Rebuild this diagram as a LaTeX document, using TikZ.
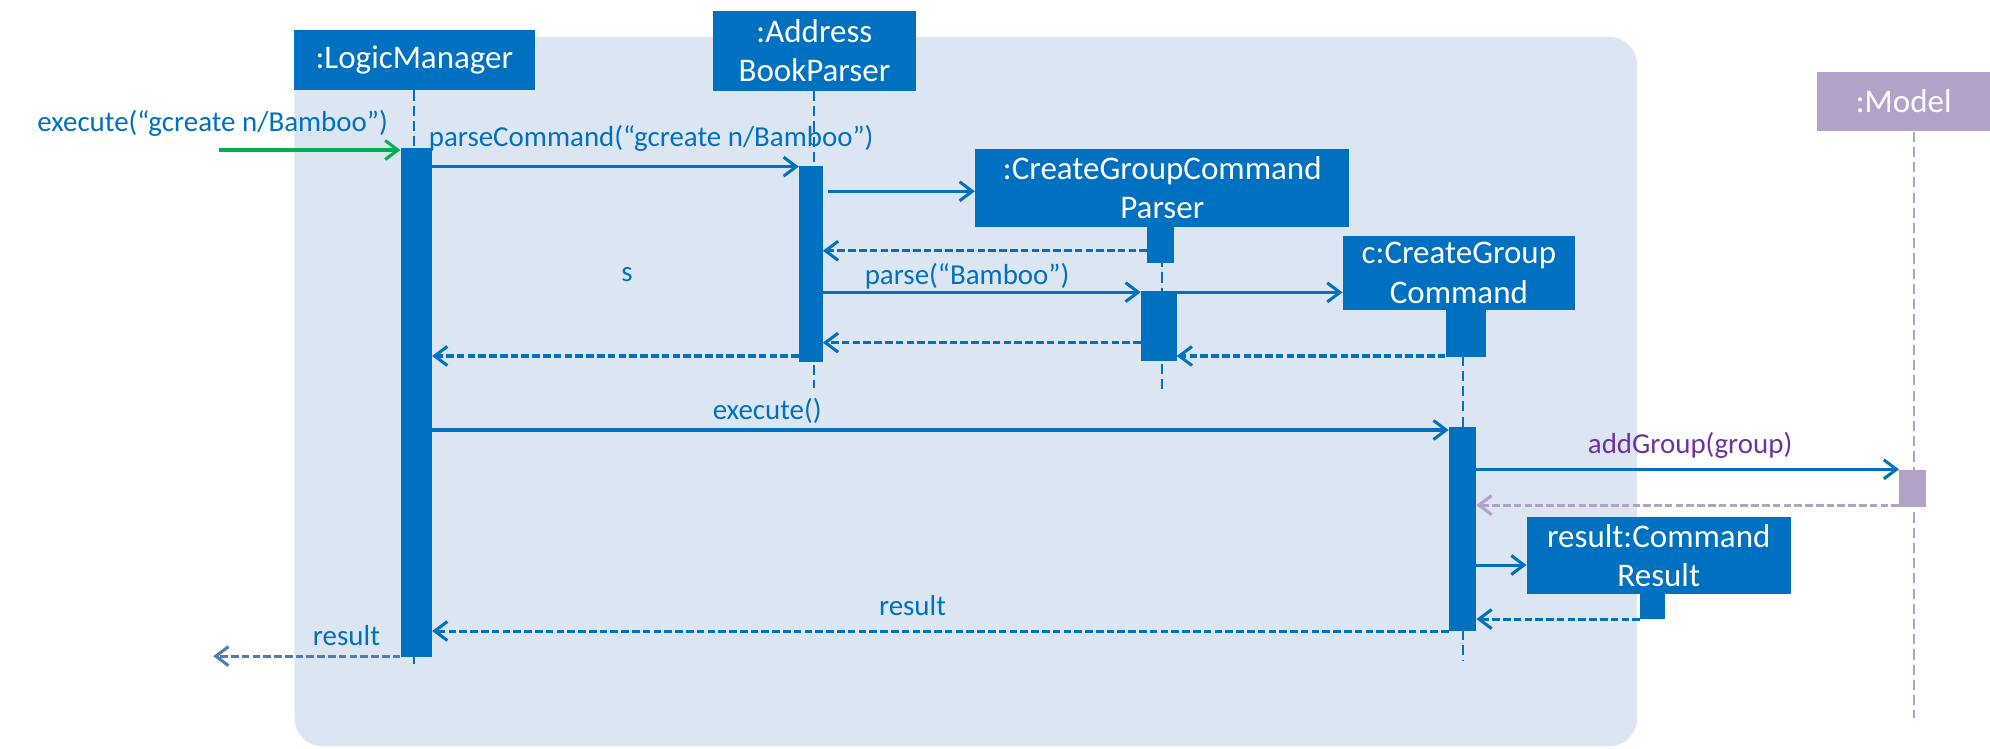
\documentclass[tikz,border=0pt]{standalone}
\usepackage{fontspec}
\setmainfont{Carlito}
\usetikzlibrary{arrows.meta,positioning}
\pgfdeclarelayer{background}
\pgfsetlayers{background,main}
\definecolor{umlblue}{HTML}{0070C0}
\definecolor{framebg}{HTML}{DCE6F2}
\definecolor{modelpurple}{HTML}{B3A2C7}
\definecolor{labelpurple}{HTML}{7030A0}
\definecolor{callgreen}{HTML}{00B050}
\definecolor{returnblue}{HTML}{4A7EBB}
\tikzstyle{bluebox}=[rectangle, fill=umlblue, text=white, align=center, inner sep=0pt, font=\fontsize{26}{31}\selectfont]
\tikzstyle{purplebox}=[bluebox, fill=modelpurple]
\tikzstyle{actbar}=[rectangle, fill=umlblue, inner sep=0pt]
\tikzstyle{lifeline}=[umlblue, line width=1.6pt, dash pattern=on 8pt off 4pt]
\tikzstyle{msg}=[umlblue, line width=2.4pt, -{Straight Barb[length=10pt,width=15pt]}]
\tikzstyle{ret}=[msg, dash pattern=on 6pt off 2.5pt]
\tikzstyle{lbl}=[text=umlblue, anchor=base, inner sep=0pt, font=\fontsize{22.8}{27}\selectfont]
\begin{document}
\begin{tikzpicture}[x=1pt, y=-1pt]
\useasboundingbox (0,0) rectangle (1568,590);
\begin{pgfonlayer}{background}
 \path[fill=framebg, rounded corners=22pt] (232,29) rectangle (1290,588);
\end{pgfonlayer}

\node[bluebox, minimum width=190, minimum height=47] (lm) at (326.5,47.5) {:LogicManager};
\node[bluebox, minimum width=160, minimum height=63] (abp) at (641.7,40) {:Address\\BookParser};
\node[bluebox, minimum width=295, minimum height=61] (cgcp) at (915.8,148) {:CreateGroupCommand\\Parser};
\node[bluebox, minimum width=183, minimum height=58] (cgc) at (1149.5,215) {c:CreateGroup\\Command};
\node[purplebox, minimum width=136, minimum height=47] (model) at (1500,80) {:Model};
\node[bluebox, minimum width=208, minimum height=61] (res) at (1307,437.7) {result:Command\\Result};

\draw[lifeline] (lm.south) -- (lm.south |- 0,523);
\draw[lifeline] (abp.south) -- (abp.south |- 0,306);
\draw[lifeline] (cgcp.south) -- (cgcp.south |- 0,310);
\draw[lifeline] ([xshift=3.5]cgc.south) -- ([xshift=3.5]cgc.south |- 0,521);
\draw[lifeline, modelpurple] ([xshift=8]model.south) -- ([xshift=8]model.south |- 0,566);

\node[actbar, minimum width=24.6, minimum height=400.5] (lmact) at (328,317.2) {};
\node[actbar, minimum width=18.6, minimum height=154.1] (abpact) at (638.9,207.9) {};
\node[actbar, minimum width=21, minimum height=28.4] (cgcpact1) at (914.5,192.8) {};
\node[actbar, minimum width=28, minimum height=55.2] (cgcpact2) at (913,256.9) {};
\node[actbar, minimum width=32, minimum height=37.2] (cgcact1) at (1155,262.4) {};
\node[actbar, minimum width=21.4, minimum height=160.5] (cgcact2) at (1152.4,417) {};
\node[actbar, fill=modelpurple, minimum width=21, minimum height=29] (modelact) at (1507,384.9) {};
\node[actbar, minimum width=19.2, minimum height=19.2] (resact) at (1302,477.9) {};

\coordinate (foundstart) at (172.4,118.2);
\coordinate (lostend) at (168,517);

\draw[msg, callgreen] (foundstart) -- (lmact.west |- foundstart);
\node[lbl] (lblexec) at (167.5,104) {execute(“gcreate n/Bamboo”)};
\draw[msg] (lmact.east |- 0,131.3) -- (abpact.west |- 0,131.3);
\node[lbl, anchor=base west] (lblparsecmd) at (337.7,115.5) {parseCommand(“gcreate n/Bamboo”)};
\draw[msg] ([xshift=4]abpact.east |- 0,150.7) -- (cgcp.west |- 0,150.7);
\draw[ret] (cgcpact1.west |- 0,197.6) -- (abpact.east |- 0,197.6);
\node[lbl] (lbls) at (494,222) {s};
\draw[msg] (abpact.east |- 0,230.2) -- (cgcpact2.west |- 0,230.2);
\node[lbl] (lblparse) at (762,223.8) {parse(“Bamboo”)};
\draw[msg] (cgcpact2.east |- 0,230.4) -- (cgc.west |- 0,230.4);
\draw[ret] (cgcpact2.west |- 0,270) -- (abpact.east |- 0,270);
\draw[ret] (abpact.west |- 0,280.5) -- (lmact.east |- 0,280.5);
\draw[ret] (cgcact1.west |- 0,280.5) -- (cgcpact2.east |- 0,280.5);
\draw[msg] (lmact.east |- 0,338.8) -- (cgcact2.west |- 0,338.8);
\node[lbl] (lblexecute) at (604.5,330.4) {execute()};
\draw[msg] (cgcact2.east |- 0,369.8) -- (modelact.west |- 0,369.8);
\node[lbl, text=labelpurple] (lbladd) at (1331.7,357.2) {addGroup(group)};
\draw[ret, modelpurple] (modelact.west |- 0,398) -- (cgcact2.east |- 0,398);
\draw[msg] (cgcact2.east |- 0,445.2) -- (res.west |- 0,445.2);
\draw[ret] (resact.west |- 0,487.8) -- (cgcact2.east |- 0,487.8);
\draw[ret] (cgcact2.west |- 0,497.2) -- (lmact.east |- 0,497.2);
\node[lbl] (lblresult) at (719,484.6) {result};
\draw[ret, returnblue] (lmact.west |- 0,517) -- (lostend);
\node[lbl] (lblresult2) at (273,508.8) {result};

\end{tikzpicture}
\end{document}
